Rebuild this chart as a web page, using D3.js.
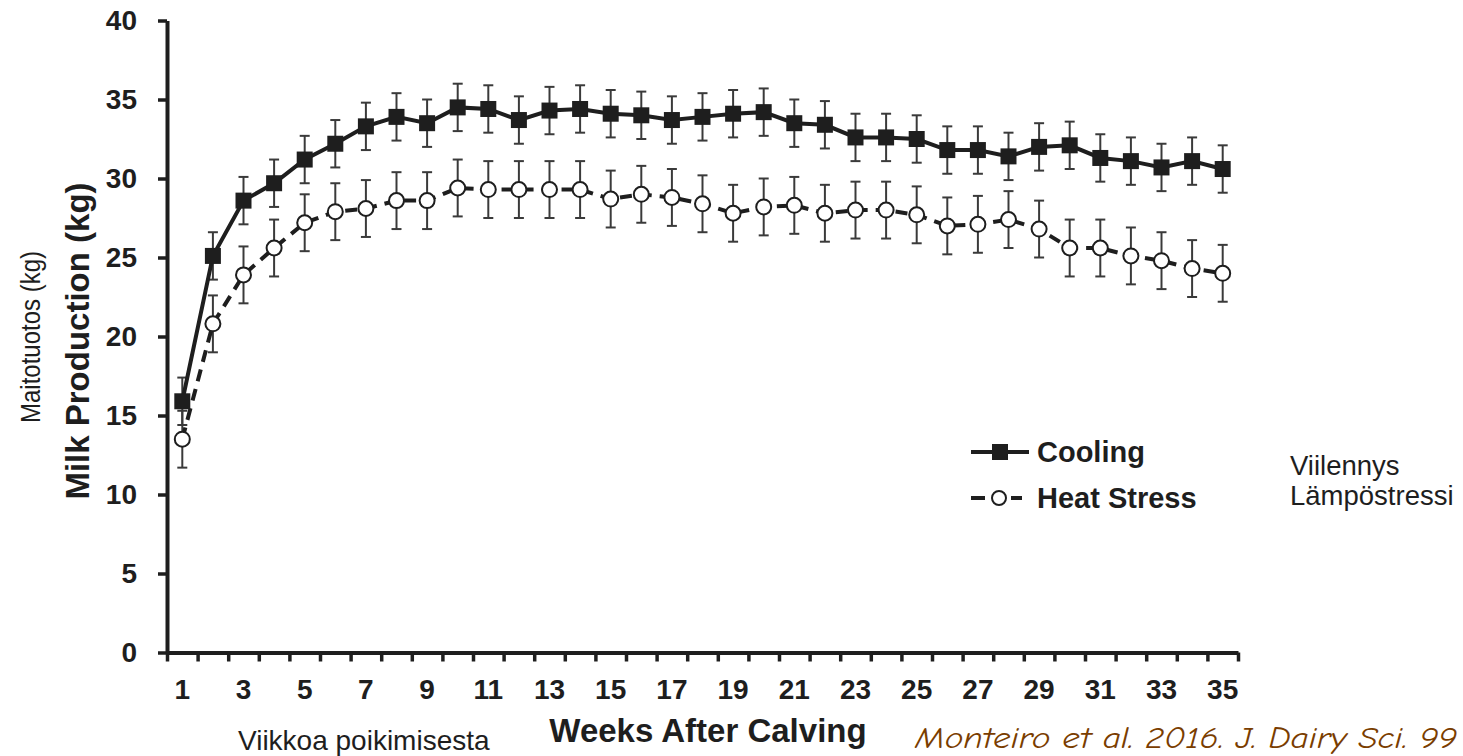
<!DOCTYPE html>
<html>
<head>
<meta charset="utf-8">
<script src="https://cdn.jsdelivr.net/npm/d3@7"></script>
<style>
  html, body { margin: 0; padding: 0; background: #fff; }
  svg { display: block; }
  text { font-family: "Liberation Sans", Arial, sans-serif; fill: #1e1e1e; }
</style>
</head>
<body>
<svg id="chart" width="1463" height="756"></svg>
<script>
// Weeks after calving
const weeks = [1, 2, 3, 4, 5, 6, 7, 8, 9, 10, 11, 12, 13, 14, 15, 16, 17, 18,
  19, 20, 21, 22, 23, 24, 25, 26, 27, 28, 29, 30, 31, 32, 33, 34, 35];

// Weekly milk production (kg/d), cooled cows
const cooling = [15.9, 25.1, 28.6, 29.7, 31.2, 32.2, 33.3, 33.9, 33.5, 34.5,
  34.4, 33.7, 34.3, 34.4, 34.1, 34.0, 33.7, 33.9, 34.1, 34.2, 33.5, 33.4,
  32.6, 32.6, 32.5, 31.8, 31.8, 31.4, 32.0, 32.1, 31.3, 31.1, 30.7, 31.1, 30.6];

// Weekly milk production (kg/d), heat-stressed cows
const heatStress = [13.5, 20.8, 23.9, 25.6, 27.2, 27.9, 28.1, 28.6, 28.6, 29.4,
  29.3, 29.3, 29.3, 29.3, 28.7, 29.0, 28.8, 28.4, 27.8, 28.2, 28.3, 27.8,
  28.0, 28.0, 27.7, 27.0, 27.1, 27.4, 26.8, 25.6, 25.6, 25.1, 24.8, 24.3, 24.0];

// Standard error of each treatment mean (kg)
const coolingSEM = 1.5;
const heatStressSEM = 1.8;

const yTicks = [0, 5, 10, 15, 20, 25, 30, 35, 40];
const xLabelWeeks = [1, 3, 5, 7, 9, 11, 13, 15, 17, 19, 21, 23, 25, 27, 29, 31, 33, 35];

const svg = d3.select("#chart");

const x = d3.scaleLinear().domain([0.5, 35.5]).range([167, 1238]);
const y = d3.scaleLinear().domain([0, 40]).range([652.5, 20.5]);

// ---- axes ----
const yAxis = svg.append("g")
  .attr("transform", `translate(${x(0.5)},0)`)
  .call(d3.axisLeft(y).tickValues(yTicks).tickSize(9).tickPadding(21).tickSizeOuter(0));
yAxis.select(".domain").attr("stroke", "#1e1e1e").attr("stroke-width", 4);
yAxis.selectAll(".tick line").attr("stroke", "#1e1e1e").attr("stroke-width", 3.5);
yAxis.selectAll(".tick text")
  .style("font-family", '"Liberation Sans", Arial, sans-serif')
  .style("font-weight", "bold").style("font-size", "28px").attr("fill", "#1e1e1e");

// tick marks sit on the boundaries between weeks
const boundaries = weeks.map(w => w - 0.5).concat([weeks[weeks.length - 1] + 0.5]);
const xAxis = svg.append("g")
  .attr("transform", `translate(0,${y(0)})`)
  .call(d3.axisBottom(x).tickValues(boundaries).tickSize(9).tickFormat("").tickSizeOuter(0));
xAxis.select(".domain").attr("stroke", "#1e1e1e").attr("stroke-width", 4);
xAxis.selectAll(".tick line").attr("stroke", "#1e1e1e").attr("stroke-width", 3.5);

// week labels under every other week
svg.append("g").selectAll("text")
  .data(xLabelWeeks)
  .join("text")
  .attr("x", d => x(d))
  .attr("y", 699)
  .attr("text-anchor", "middle")
  .style("font-weight", "bold")
  .style("font-size", "28px")
  .text(d => d);

// ---- axis titles ----
svg.append("text")
  .attr("transform", "translate(89,341) rotate(-90)")
  .attr("text-anchor", "middle")
  .style("font-weight", "bold").style("font-size", "33px")
  .text("Milk Production (kg)");

svg.append("text")
  .attr("transform", "translate(40,337) rotate(-90)")
  .attr("text-anchor", "middle")
  .attr("textLength", 172).attr("lengthAdjust", "spacingAndGlyphs")
  .style("font-size", "27px")
  .text("Maitotuotos (kg)");

svg.append("text")
  .attr("x", 708).attr("y", 742)
  .attr("text-anchor", "middle")
  .style("font-weight", "bold").style("font-size", "33px")
  .text("Weeks After Calving");

svg.append("text")
  .attr("x", 238).attr("y", 750)
  .style("font-size", "28px")
  .text("Viikkoa poikimisesta");

// ---- error bars ----
function errorBars(values, sem) {
  const g = svg.append("g").attr("stroke", "#3a3a3a").attr("stroke-width", 2).attr("fill", "none");
  values.forEach((v, i) => {
    const cx = x(weeks[i]);
    const top = y(v + sem), bot = y(v - sem);
    g.append("line").attr("x1", cx).attr("x2", cx).attr("y1", top).attr("y2", bot);
    g.append("line").attr("x1", cx - 5).attr("x2", cx + 5).attr("y1", top).attr("y2", top);
    g.append("line").attr("x1", cx - 5).attr("x2", cx + 5).attr("y1", bot).attr("y2", bot);
  });
}
errorBars(cooling, coolingSEM);
errorBars(heatStress, heatStressSEM);

// ---- lines ----
const line = d3.line().x((d, i) => x(weeks[i])).y(d => y(d));

svg.append("path")
  .datum(cooling)
  .attr("d", line)
  .attr("fill", "none")
  .attr("stroke", "#1e1e1e")
  .attr("stroke-width", 4);

svg.append("path")
  .datum(heatStress)
  .attr("d", line)
  .attr("fill", "none")
  .attr("stroke", "#1e1e1e")
  .attr("stroke-width", 4)
  .attr("stroke-dasharray", "12,8");

// ---- markers ----
const sq = 16;
svg.append("g").selectAll("rect")
  .data(cooling)
  .join("rect")
  .attr("x", (d, i) => x(weeks[i]) - sq / 2)
  .attr("y", d => y(d) - sq / 2)
  .attr("width", sq).attr("height", sq)
  .attr("fill", "#1e1e1e");

svg.append("g").selectAll("circle")
  .data(heatStress)
  .join("circle")
  .attr("cx", (d, i) => x(weeks[i]))
  .attr("cy", d => y(d))
  .attr("r", 7.5)
  .attr("fill", "#fff")
  .attr("stroke", "#1e1e1e")
  .attr("stroke-width", 2);

// ---- legend ----
const lg = svg.append("g");
lg.append("line").attr("x1", 971).attr("x2", 1029).attr("y1", 452).attr("y2", 452)
  .attr("stroke", "#1e1e1e").attr("stroke-width", 4);
lg.append("rect").attr("x", 992).attr("y", 444).attr("width", 16).attr("height", 16)
  .attr("fill", "#1e1e1e");
lg.append("text").attr("x", 1037).attr("y", 462)
  .style("font-weight", "bold").style("font-size", "29px").text("Cooling");

lg.append("line").attr("x1", 971).attr("x2", 985).attr("y1", 498).attr("y2", 498)
  .attr("stroke", "#1e1e1e").attr("stroke-width", 4);
lg.append("line").attr("x1", 1011).attr("x2", 1022).attr("y1", 498).attr("y2", 498)
  .attr("stroke", "#1e1e1e").attr("stroke-width", 4);
lg.append("circle").attr("cx", 999).attr("cy", 498).attr("r", 7)
  .attr("fill", "#fff").attr("stroke", "#1e1e1e").attr("stroke-width", 2);
lg.append("text").attr("x", 1037).attr("y", 508)
  .style("font-weight", "bold").style("font-size", "29px").text("Heat Stress");

// Finnish legend labels
svg.append("text").attr("x", 1290).attr("y", 475)
  .style("font-size", "27.5px").attr("fill", "#000").text("Viilennys");
svg.append("text").attr("x", 1290).attr("y", 505)
  .style("font-size", "27.5px").attr("fill", "#000").text("Lämpöstressi");

// source reference
svg.append("text")
  .attr("x", 915).attr("y", 748)
  .attr("textLength", 542).attr("lengthAdjust", "spacingAndGlyphs")
  .style("font-family", '"Comic Sans MS", "Comic Neue", "DejaVu Sans", sans-serif')
  .style("font-style", "italic")
  .style("font-size", "30px")
  .style("fill", "#7a3d00")
  .text("Monteiro et al. 2016. J. Dairy Sci. 99");
</script>
</body>
</html>
